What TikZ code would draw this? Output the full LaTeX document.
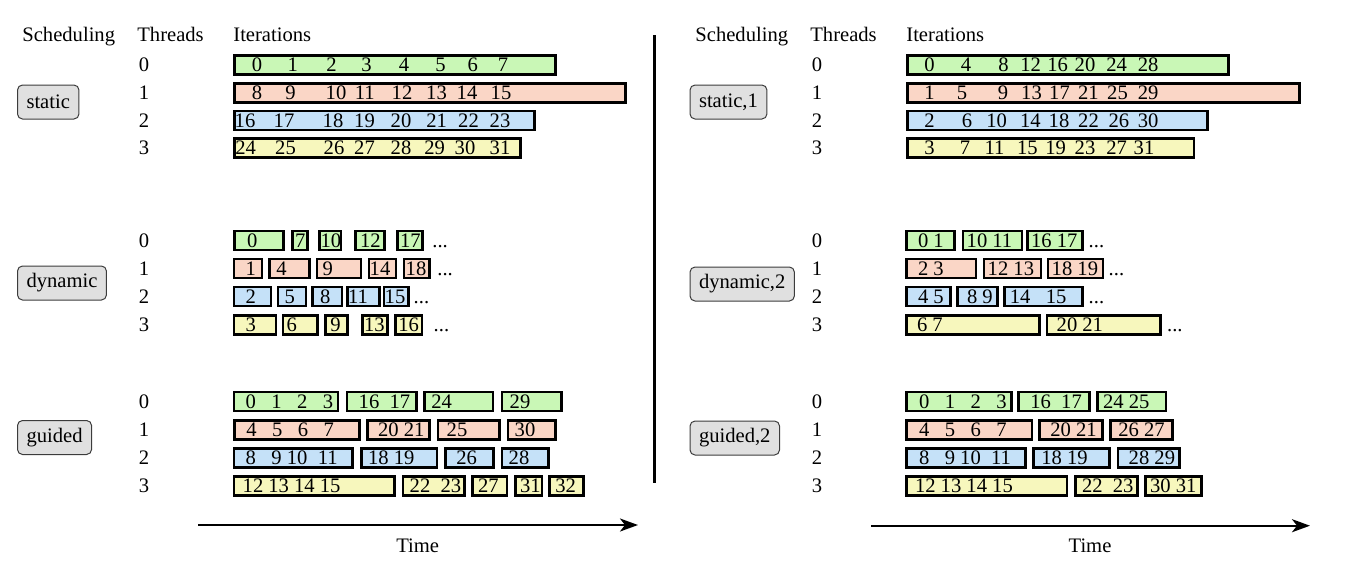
\documentclass[tikz,border=0pt]{standalone}
\usepackage{fontspec}
\setmainfont{Liberation Serif}
\usetikzlibrary{arrows.meta}

\definecolor{thr0}{RGB}{201,247,182}
\definecolor{thr1}{RGB}{250,214,198}
\definecolor{thr2}{RGB}{197,225,248}
\definecolor{thr3}{RGB}{247,247,189}
\definecolor{schedfill}{RGB}{224,224,224}
\definecolor{schedline}{RGB}{60,60,60}

\tikzset{
  chunk/.style = {draw=black, line width=1.3pt, inner xsep=0pt, inner ysep=0pt,
    minimum height=9.5pt},
  num/.style = {inner sep=0pt},
  more/.style = {anchor=west, inner sep=0pt, text height=6.9pt, text depth=0pt},
  head/.style = {anchor=base west, inner sep=0pt},
  sched/.style = {anchor=west, draw=schedline, fill=schedfill, line width=0.5pt,
    rounded corners=2.5pt, inner xsep=4.5pt, minimum height=17pt},
  timeline/.style = {line width=1.15pt, -{Stealth[length=9pt, width=6.5pt, inset=2.5pt]}}
}

% [pad]{name}{x1}{x2}{y}{colour}{text}
\newcommand\iterblock[7][8]{%
  \pgfmathsetlengthmacro\blockw{(#4-#3)*0.5pt-1.3pt}%
  \pgfmathsetlengthmacro\blockp{#1*0.5pt-0.65pt}%
  \node[chunk, fill=#6] (#2) at ({(#3+#4)/2},#5) {\makebox[\blockw][l]{\hspace{\blockp}#7}};}

\begin{document}
\begin{tikzpicture}[x=0.5pt, y=-0.5pt, font=\fontsize{10.3}{12}\selectfont]
\useasboundingbox (0,0) rectangle (1361,574);

\node[head] (hsa) at (22,41.5) {Scheduling};
\node[head] (hta) at (137,41.5) {Threads};
\node[head] (hia) at (233,41.5) {Iterations};
\node[head] (hsb) at (695,41.5) {Scheduling};
\node[head] (htb) at (810,41.5) {Threads};
\node[head] (hib) at (906,41.5) {Iterations};

\node[sched] (static) at (17,102) {static};
\node[sched] (dynamic) at (17,283) {dynamic};
\node[sched] (guided) at (17,437.5) {guided};
\node[sched] (static1) at (689.5,102) {static,1};
\node[sched] (dynamic2) at (689.5,284) {dynamic,2};
\node[sched] (guided2) at (689.5,438) {guided,2};

\foreach \ya/\yb/\yc [count=\t from 0] in {65/240.3/401.3, 92.7/268.5/429.8,
    120.3/296.5/458, 148/324.7/486} {
  \node[num] (lsa\t) at (144,\ya) {\t};
  \node[num] (lda\t) at (144,\yb) {\t};
  \node[num] (lga\t) at (144,\yc) {\t};
  \node[num] (lsb\t) at (817,\ya) {\t};
  \node[num] (ldb\t) at (817,\yb) {\t};
  \node[num] (lgb\t) at (817,\yc) {\t};
}

\iterblock{sa0}{233}{557}{65}{thr0}{}
\iterblock{sa1}{233}{627}{92.7}{thr1}{}
\iterblock{sa2}{233}{536}{120.3}{thr2}{}
\iterblock{sa3}{233}{522}{148}{thr3}{}
\foreach \n/\x in {0/257,1/292.7,2/331.4,3/366.5,4/404,5/440.5,6/472.7,7/503}
  \node[num] (sa0-\n) at (\x,65) {\n};
\foreach \n/\x in {8/257,9/290.6,10/336,11/364.8,12/402,13/436.5,14/467,15/501}
  \node[num] (sa1-\n) at (\x,92.7) {\n};
\foreach \n/\x in {16/245,17/284,18/333,19/364.5,20/401,21/436.7,22/468.5,23/500}
  \node[num] (sa2-\n) at (\x,120.3) {\n};
\foreach \n/\x in {24/245.7,25/285.5,26/334,27/364.5,28/401,29/434.7,30/465,31/500}
  \node[num] (sa3-\n) at (\x,148) {\n};

\iterblock{sb0}{906}{1230}{65}{thr0}{}
\iterblock{sb1}{906}{1300.6}{92.7}{thr1}{}
\iterblock{sb2}{906}{1209}{120.3}{thr2}{}
\iterblock{sb3}{906}{1195.4}{148}{thr3}{}
\foreach \n/\x in {0/929.4,4/966,8/1003.5,12/1030.7,16/1057.7,20/1085,24/1116.6,28/1148.2}
  \node[num] (sb0-\n) at (\x,65) {\n};
\foreach \n/\x in {1/929.4,5/962,9/1003,13/1031.5,17/1059.5,21/1088.3,25/1117.5,29/1148.2}
  \node[num] (sb1-\n) at (\x,92.7) {\n};
\foreach \n/\x in {2/929.4,6/967,10/996.7,14/1030.4,18/1059,22/1088.5,26/1118.8,30/1148.2}
  \node[num] (sb2-\n) at (\x,120.3) {\n};
\foreach \n/\x in {3/929.4,7/965,11/994.6,15/1027.4,19/1055.6,23/1085,27/1116.6,31/1144}
  \node[num] (sb3-\n) at (\x,148) {\n};

\iterblock[14]{da00}{233}{285}{240.3}{thr0}{0}
\iterblock[4]{da01}{291}{309}{240.3}{thr0}{7}
\iterblock[2.5]{da02}{318}{342.3}{240.3}{thr0}{10}
\iterblock[6]{da03}{354}{385.7}{240.3}{thr0}{12}
\iterblock[4]{da04}{396}{424}{240.3}{thr0}{17}
\node[more] (da0m) at (432,240.3) {...};
\iterblock[13]{da10}{232.7}{263.3}{268.5}{thr1}{1}
\iterblock[8]{da11}{268.3}{310.7}{268.5}{thr1}{4}
\iterblock[7]{da12}{315.7}{362.3}{268.5}{thr1}{9}
\iterblock[2]{da13}{367.7}{397.3}{268.5}{thr1}{14}
\iterblock[3]{da14}{402.7}{430.7}{268.5}{thr1}{18}
\node[more] (da1m) at (437,268.5) {...};
\iterblock[13]{da20}{232.7}{272.3}{296.5}{thr2}{2}
\iterblock[8]{da21}{276.7}{307.3}{296.5}{thr2}{5}
\iterblock[9]{da22}{311}{343.3}{296.5}{thr2}{8}
\iterblock[2]{da23}{346}{380.7}{296.5}{thr2}{11}
\iterblock[2]{da24}{382.7}{410}{296.5}{thr2}{15}
\node[more] (da2m) at (413.3,296.5) {...};
\iterblock[13]{da30}{232.7}{277.3}{324.7}{thr3}{3}
\iterblock[5]{da31}{281.7}{319}{324.7}{thr3}{6}
\iterblock[6]{da32}{324.3}{349}{324.7}{thr3}{9}
\iterblock[3]{da33}{361}{389}{324.7}{thr3}{13}
\iterblock[4]{da34}{394.3}{423.3}{324.7}{thr3}{16}
\node[more] (da3m) at (433.3,324.7) {...};

\iterblock[13]{db00}{905}{956}{240.3}{thr0}{0 1}
\iterblock[5]{db01}{961.7}{1023.3}{240.3}{thr0}{10 11}
\iterblock[5]{db02}{1026}{1084}{240.3}{thr0}{16 17}
\node[more] (db0m) at (1088.3,240.3) {...};
\iterblock[13]{db10}{905}{977.3}{268.5}{thr1}{2 3}
\iterblock[5]{db11}{982.7}{1042.3}{268.5}{thr1}{12 13}
\iterblock[5]{db12}{1046.7}{1104.3}{268.5}{thr1}{18 19}
\node[more] (db1m) at (1108.3,268.5) {...};
\iterblock[13]{db20}{905}{951.7}{296.5}{thr2}{4 5}
\iterblock[11]{db21}{956}{999}{296.5}{thr2}{8 9}
\iterblock[6.5]{db22}{1003.3}{1084}{296.5}{thr2}{14~~~15}
\node[more] (db2m) at (1088.3,296.5) {...};
\iterblock[12]{db30}{905}{1041}{324.7}{thr3}{6 7}
\iterblock[11]{db31}{1045.7}{1161.7}{324.7}{thr3}{20 21}
\node[more] (db3m) at (1166.7,324.7) {...};

\iterblock[13]{ga00}{232.7}{339.3}{401.3}{thr0}{0~~~1~~~2~~~3}
\iterblock[13]{ga01}{345.7}{417.7}{401.3}{thr0}{16~~17}
\iterblock[8]{ga02}{423.3}{494.3}{401.3}{thr0}{24}
\iterblock[9]{ga03}{500.7}{563}{401.3}{thr0}{29}
\iterblock[13]{ga10}{233.3}{360.7}{429.8}{thr1}{4~~~5~~~6~~~7}
\iterblock[12]{ga11}{366}{430.7}{429.8}{thr1}{20 21}
\iterblock[10]{ga12}{436.7}{501}{429.8}{thr1}{25}
\iterblock[8]{ga13}{506.7}{556.7}{429.8}{thr1}{30}
\iterblock[13]{ga20}{232.7}{354}{458}{thr2}{8~~~9 10~~11}
\iterblock[8]{ga21}{360}{438.3}{458}{thr2}{18 19}
\iterblock[12]{ga22}{444.3}{495}{458}{thr2}{26}
\iterblock[8]{ga23}{500.7}{550}{458}{thr2}{28}
\iterblock[10]{ga30}{232.7}{396}{486}{thr3}{12 13 14 15}
\iterblock[8]{ga31}{401.7}{466}{486}{thr3}{22~~23}
\iterblock[7]{ga32}{471}{508.3}{486}{thr3}{27}
\iterblock[6]{ga33}{514}{543.3}{486}{thr3}{31}
\iterblock[7]{ga34}{548.3}{585}{486}{thr3}{32}

\iterblock[14]{gb00}{905}{1012.7}{401.3}{thr0}{0~~~1~~~2~~~3}
\iterblock[13]{gb01}{1017.3}{1090.7}{401.3}{thr0}{16~~17}
\iterblock[7]{gb02}{1096}{1167.3}{401.3}{thr0}{24 25}
\iterblock[14]{gb10}{905}{1033.3}{429.8}{thr1}{4~~~5~~~6~~~7}
\iterblock[12]{gb11}{1038.3}{1104}{429.8}{thr1}{20 21}
\iterblock[9]{gb12}{1109.3}{1174}{429.8}{thr1}{26 27}
\iterblock[14]{gb20}{905}{1026.7}{458}{thr2}{8~~~9 10~~11}
\iterblock[9]{gb21}{1032.3}{1111}{458}{thr2}{18 19}
\iterblock[12]{gb22}{1116.7}{1181}{458}{thr2}{28 29}
\iterblock[10]{gb30}{905}{1068.3}{486}{thr3}{12 13 14 15}
\iterblock[8]{gb31}{1074}{1139}{486}{thr3}{22~~23}
\iterblock[6]{gb32}{1144}{1202.7}{486}{thr3}{30 31}

\coordinate (divtop) at (654.3,35);
\coordinate (divbot) at (654.3,483);
\draw[line width=1.25pt] (divtop) -- (divbot);

\coordinate (ta0) at (198,525);
\coordinate (ta1) at (638,525);
\draw[timeline] (ta0) -- (ta1);
\node (timea) at (417.7,545.7) {Time};
\coordinate (tb0) at (871,525.7);
\coordinate (tb1) at (1310,525.7);
\draw[timeline] (tb0) -- (tb1);
\node (timeb) at (1090,545.5) {Time};
\end{tikzpicture}
\end{document}
